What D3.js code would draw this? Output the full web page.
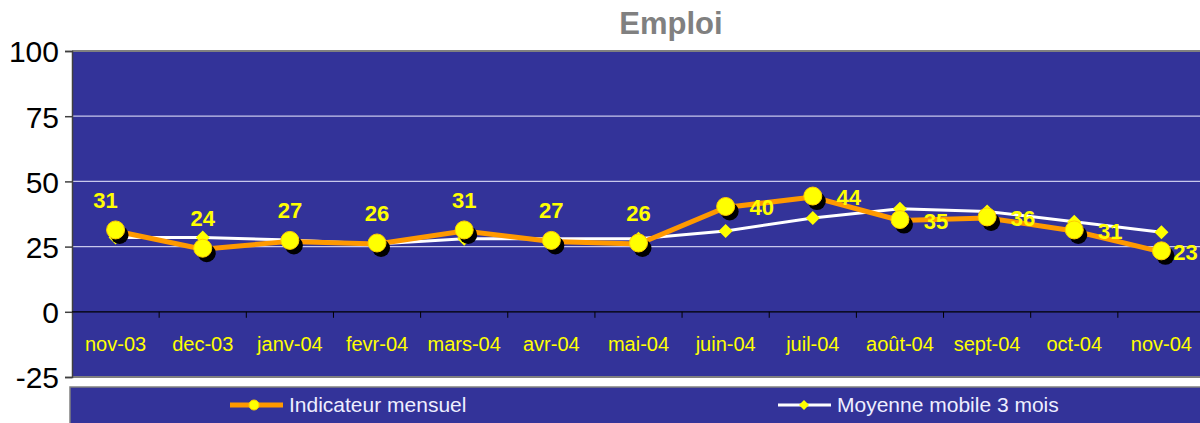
<!DOCTYPE html>
<html>
<head>
<meta charset="utf-8">
<script src="https://cdn.jsdelivr.net/npm/d3@7"></script>
<style>
  body { margin: 0; background: #fff; }
  svg { display: block; font-family: Arial, "Liberation Sans", sans-serif; }
</style>
</head>
<body>
<div id="chart"></div>
<script>
// chart data
const months = ["nov-03", "dec-03", "janv-04", "fevr-04", "mars-04", "avr-04", "mai-04",
  "juin-04", "juil-04", "août-04", "sept-04", "oct-04", "nov-04"]
const indicateur = [31, 24, 27, 26, 31, 27, 26, 40, 44, 35, 36, 31, 23]
const moyenne = [28.5, 28.5, 27.5, 26, 28, 28, 28, 31, 36, 39.5, 38.5, 34.5, 30.5]
const yTicks = [-25, 0, 25, 50, 75, 100]

const width = 1200, height = 423
const margin = {left: 72, top: 51, right: -5, bottom: 377}

const svg = d3.select("#chart").append("svg")
  .attr("width", width).attr("height", height)

const x = d3.scaleBand()
  .domain(months)
  .range([margin.left, width - margin.right])
  .padding(0)
const y = d3.scaleLinear().domain([-25, 100]).range([margin.bottom, margin.top])
const cx = d => x(d) + x.bandwidth() / 2

// a square diamond, like the excel marker
function diamondPath(r) {
  return `M0,${-r}L${r},0L0,${r}L${-r},0Z`
}

// plot background
svg.append("rect")
  .attr("x", margin.left).attr("y", y(100))
  .attr("width", width - margin.left + 10).attr("height", y(-25) - y(100))
  .attr("fill", "#333399")
svg.append("line").attr("x1", margin.left).attr("x2", width)
  .attr("y1", y(100)).attr("y2", y(100))
  .attr("stroke", "#808080").attr("stroke-width", 2)
svg.append("line").attr("x1", margin.left).attr("x2", width)
  .attr("y1", y(-25)).attr("y2", y(-25))
  .attr("stroke", "#808080").attr("stroke-width", 2)

// gridlines
svg.append("g").selectAll("line")
  .data([25, 50, 75])
  .join("line")
    .attr("x1", margin.left).attr("x2", width)
    .attr("y1", d => y(d)).attr("y2", d => y(d))
    .attr("stroke", "#c8c8ec").attr("stroke-width", 1.2)

// y axis
const yAxis = svg.append("g")
  .attr("transform", `translate(${margin.left},0)`)
  .call(d3.axisLeft(y).tickValues(yTicks).tickSize(7).tickPadding(6).tickFormat(d => String(d)))
yAxis.select(".domain").attr("stroke", "#404040").attr("stroke-width", 1.5)
yAxis.selectAll(".tick line").attr("stroke", "#404040").attr("stroke-width", 1.5)
yAxis.selectAll("text").attr("font-size", 30).attr("fill", "#000")
  .attr("dy", "0.36em")
  .attr("font-family", "Arial, 'Liberation Sans', sans-serif")

// zero line with category ticks
svg.append("line").attr("x1", margin.left).attr("x2", width)
  .attr("y1", y(0)).attr("y2", y(0)).attr("stroke", "#000").attr("stroke-width", 1.2)
svg.append("g").selectAll("line")
  .data(months.slice(1))
  .join("line")
    .attr("x1", d => x(d)).attr("x2", d => x(d))
    .attr("y1", y(0)).attr("y2", y(0) + 6)
    .attr("stroke", "#000").attr("stroke-width", 1)

// category labels
svg.append("g").selectAll("text")
  .data(months)
  .join("text")
    .attr("x", d => cx(d)).attr("y", 351)
    .attr("text-anchor", "middle")
    .attr("font-size", 20)
    .attr("fill", "#ffff00")
    .text(d => d)

// moving average line (white, diamonds)
const line = d3.line().x((d, i) => cx(months[i])).y(d => y(d))
svg.append("path")
  .datum(moyenne)
  .attr("d", line)
  .attr("fill", "none").attr("stroke", "#ffffff").attr("stroke-width", 3)

// indicator line (orange)
svg.append("path")
  .datum(indicateur)
  .attr("d", line)
  .attr("fill", "none").attr("stroke", "#ff9900").attr("stroke-width", 5)

// diamonds for moving average
svg.append("g").selectAll("path")
  .data(moyenne)
  .join("path")
    .attr("d", diamondPath(7))
    .attr("transform", (d, i) => `translate(${cx(months[i])},${y(d)})`)
    .attr("fill", "#ffff00")

// circle markers with shadow
const pts = svg.append("g")
pts.selectAll("circle.shadow")
  .data(indicateur)
  .join("circle")
    .attr("class", "shadow")
    .attr("cx", (d, i) => cx(months[i]) + 4).attr("cy", d => y(d) + 4)
    .attr("r", 9).attr("fill", "#000")
pts.selectAll("circle.dot")
  .data(indicateur)
  .join("circle")
    .attr("class", "dot")
    .attr("cx", (d, i) => cx(months[i])).attr("cy", d => y(d) - 1)
    .attr("r", 9).attr("fill", "#ffff00").attr("stroke", "#ffcc00").attr("stroke-width", 1)

// value labels: above for the first 7, to the right after
function labelX(d, i) {
  if (i === 0) return cx(months[i]) - 10
  if (i < 7) return cx(months[i])
  if (i === 12) return cx(months[i]) + 24
  return cx(months[i]) + 36
}
svg.append("g").selectAll("text")
  .data(indicateur)
  .join("text")
    .attr("x", labelX)
    .attr("y", (d, i) => i < 7 ? y(d) - 23 : y(d) + 8)
    .attr("text-anchor", "middle")
    .attr("font-size", 22).attr("font-weight", "bold")
    .attr("fill", "#ffff00")
    .text(d => d)

// title
svg.append("text")
  .attr("x", 671).attr("y", 34)
  .attr("text-anchor", "middle")
  .attr("font-size", 31).attr("font-weight", "bold")
  .attr("fill", "#808080")
  .text("Emploi")

// legend box
svg.append("rect")
  .attr("x", 70).attr("y", 387)
  .attr("width", width).attr("height", 50)
  .attr("fill", "#333399").attr("stroke", "#808080").attr("stroke-width", 1.5)

const legend = svg.append("g")
legend.append("line").attr("x1", 230).attr("x2", 283).attr("y1", 405).attr("y2", 405)
  .attr("stroke", "#ff9900").attr("stroke-width", 5)
legend.append("circle").attr("cx", 254).attr("cy", 405).attr("r", 5)
  .attr("fill", "#ffff00").attr("stroke", "#ffcc00")
legend.append("text").attr("x", 289).attr("y", 412)
  .attr("font-size", 21).attr("fill", "#eeeeff").text("Indicateur mensuel")
legend.append("line").attr("x1", 778).attr("x2", 831).attr("y1", 405).attr("y2", 405)
  .attr("stroke", "#ffffff").attr("stroke-width", 3)
legend.append("path").attr("d", diamondPath(5))
  .attr("transform", "translate(804,405)").attr("fill", "#ffff00")
legend.append("text").attr("x", 837).attr("y", 412)
  .attr("font-size", 21).attr("fill", "#eeeeff").text("Moyenne mobile 3 mois")
</script>
</body>
</html>
